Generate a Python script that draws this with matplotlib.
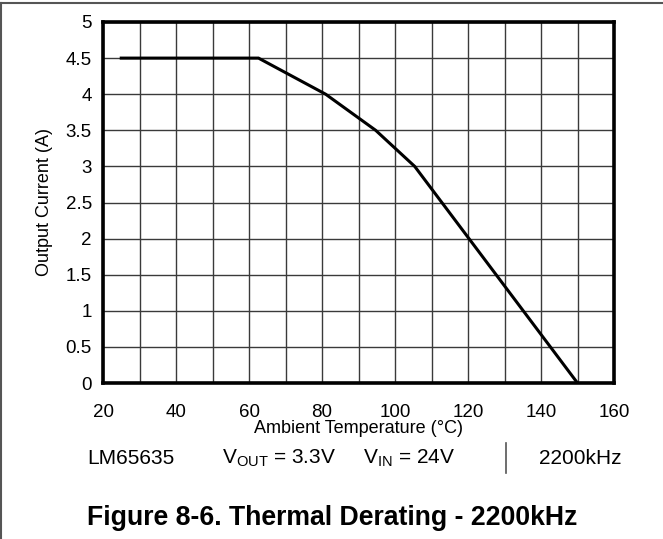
import matplotlib
matplotlib.use("Agg")
from matplotlib import pyplot as plt
from matplotlib.lines import Line2D

plt.rcParams["font.family"] = ["Liberation Sans", "DejaVu Sans"]
plt.rcParams["mathtext.fontset"] = "custom"
plt.rcParams["mathtext.rm"] = "Liberation Sans"
plt.rcParams["mathtext.it"] = "Liberation Sans"

# derating curve
temp = [25, 62.6, 81, 94.7, 105.4, 150]
current = [4.5, 4.5, 4.0, 3.5, 3.0, 0]

x_ticks = [20, 40, 60, 80, 100, 120, 140, 160]
y_ticks = [0, 0.5, 1, 1.5, 2, 2.5, 3, 3.5, 4, 4.5, 5]

W, H = 663, 539
fig = plt.figure(figsize=(W / 100, H / 100), dpi=100)
ax = fig.add_axes([103 / W, 1 - 383 / H, (614 - 103) / W, (383 - 22) / H])

ax.plot(temp, current, color="black", lw=2.2, solid_joinstyle="miter", zorder=3)

ax.set_xlim(20, 160)
ax.set_ylim(0, 5)
ax.set_xticks(x_ticks)
ax.set_xticks(range(30, 160, 20), minor=True)
ax.set_yticks(y_ticks)
ax.set_yticklabels([f"{v:g}" for v in y_ticks])
ax.grid(True, which="both", color="#3a3a3a", lw=1)
ax.tick_params(which="both", length=0, labelsize=13.5, colors="black")
ax.tick_params(axis="x", pad=15)
ax.tick_params(axis="y", pad=8)
for s in ax.spines.values():
    s.set_linewidth(2.6)

ax.set_xlabel("Ambient Temperature (°C)", fontsize=13)
ax.xaxis.label.set_va("baseline")
ax.xaxis.set_label_coords(0.5, (383 - 433) / 361)
ax.set_ylabel("Output Current (A)", fontsize=13)
ax.yaxis.label.set_va("center")
ax.yaxis.set_label_coords((45 - 103) / 511, 0.5)

# footer row
def ftext(x, y, s, size=15, **kw):
    fig.text(x / W, 1 - y / H, s, va="baseline", fontsize=size, **kw)

ftext(87, 464, "LM65635")
ftext(222, 464, r"V$_{\mathrm{OUT}}$ = 3.3V")
ftext(363, 464, r"V$_{\mathrm{IN}}$ = 24V")
ftext(539, 464, "2200kHz")
fig.add_artist(Line2D([505.7 / W] * 2, [1 - 443 / H, 1 - 473 / H], color="#555555", lw=1.2))

ftext(87, 525, "Figure 8-6. Thermal Derating - 2200kHz", size=19.2, fontweight="bold")

# outer frame (top and left only)
fig.add_artist(Line2D([1 / W, 1], [1 - 3 / H] * 2, color="#555555", lw=1.5))
fig.add_artist(Line2D([1 / W] * 2, [0, 1 - 3 / H], color="#555555", lw=1.5))

fig.savefig("out.png", dpi=100)
